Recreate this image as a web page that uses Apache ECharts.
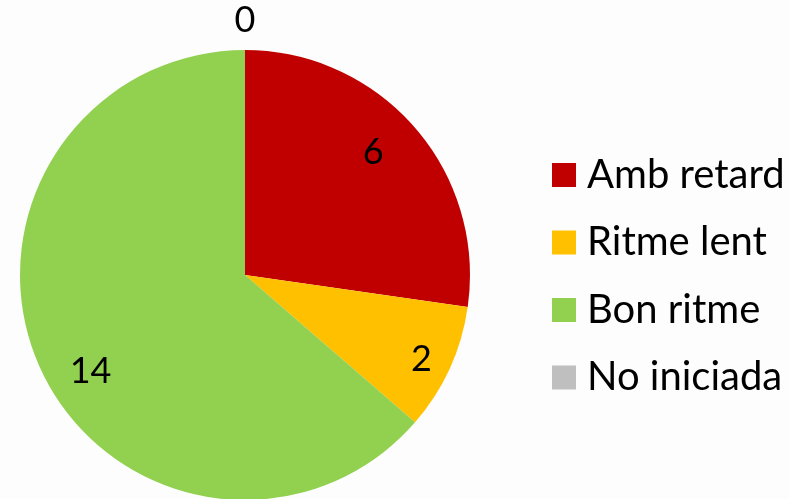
<!DOCTYPE html>
<html><head><meta charset="utf-8">
<script src="https://cdn.jsdelivr.net/npm/echarts@6/dist/echarts.min.js"></script>
<style>html,body{margin:0;padding:0;background:#fdfdfd}#c{width:790px;height:499px}</style>
</head><body><div id="c"></div>
<script>
const categories = ['Amb retard', 'Ritme lent', 'Bon ritme', 'No iniciada'];
const values = [6, 2, 14, 0];
const colors = ['#C00000', '#FFC000', '#92D050', '#BFBFBF'];
const FONT = 'Lato';
// label nudges (style only)
const labelNudge = [[-10, -3], [10, 8], [12, 20], [0, 0]];

const chart = echarts.init(document.getElementById('c'));
const R = 225;
const common = { type: 'pie', center: [245, 275], startAngle: 90, clockwise: true,
  silent: true, avoidLabelOverlap: false, stillShowZeroSum: true };
chart.setOption({
  backgroundColor: '#fdfdfd',
  animation: false,
  color: colors,
  legend: {
    orient: 'vertical', left: 552, top: 155, padding: 0,
    icon: 'rect', itemWidth: 24, itemHeight: 24, itemGap: 27.5,
    textStyle: { fontFamily: FONT, fontSize: 40, color: '#000', padding: [0,0,0,6] },
    data: categories
  },
  series: [
    Object.assign({}, common, {
      radius: [0, R],
      data: categories.map((n, i) => ({ name: n, value: values[i] })),
      label: { show: false }, labelLine: { show: false }
    }),
    Object.assign({}, common, {
      radius: [0.6 * R, R], legendHoverLink: false,
      itemStyle: { color: 'transparent' },
      data: categories.map((n, i) => ({ name: n, value: values[i],
        label: { show: values[i] !== 0, offset: labelNudge[i] } })),
      label: { position: 'inside', formatter: '{c}', fontFamily: FONT, fontSize: 36, color: '#000' },
      labelLine: { show: false }
    }),
    Object.assign({}, common, {
      radius: [1.08 * R, 1.16 * R], legendHoverLink: false,
      itemStyle: { color: 'transparent' },
      data: categories.map((n, i) => ({ name: n, value: values[i],
        label: { show: values[i] === 0 } })),
      label: { position: 'inside', formatter: '{c}', fontFamily: FONT, fontSize: 36, color: '#000' },
      labelLine: { show: false }
    })
  ]
});
</script></body></html>
